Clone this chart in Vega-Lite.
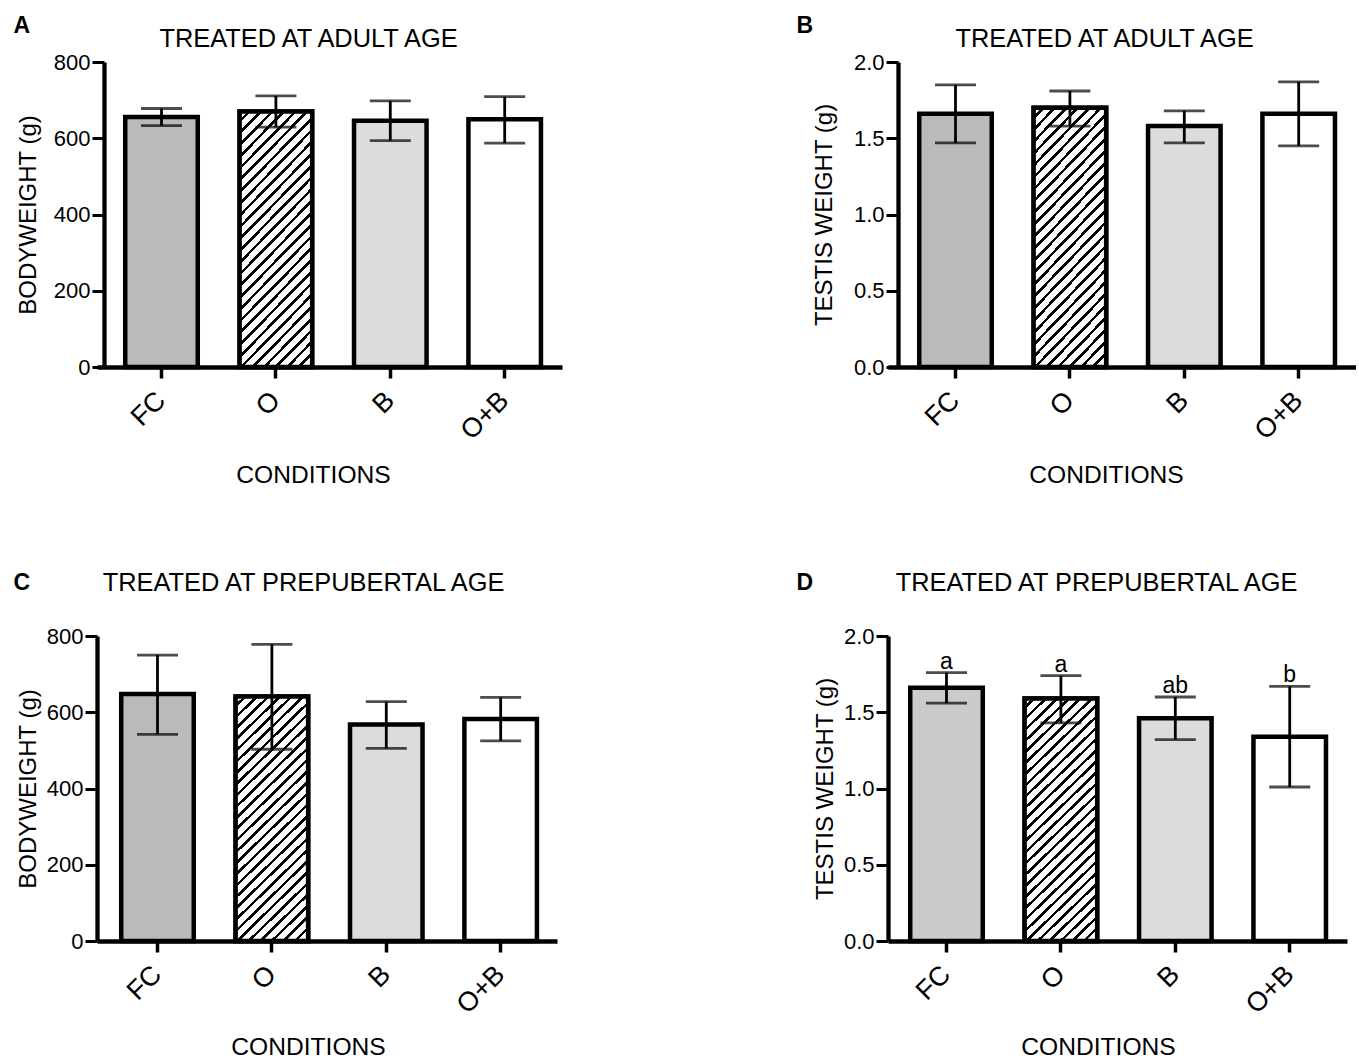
{
"$schema": "https://vega.github.io/schema/vega-lite/v6.json",
"background": "#ffffff",
"padding": {"left": 13, "top": 14, "right": 0, "bottom": 0},
"columns": 2,
"bounds": "flush",
"spacing": {"row": 269, "column": 326},
"config": {
  "font": "Liberation Sans",
  "view": {"stroke": null},
  "axis": {"grid": false, "domainColor": "#000", "tickColor": "#000", "labelColor": "#000", "titleColor": "#000", "titleFontWeight": "normal", "titleFont": "Liberation Sans", "labelFont": "Liberation Sans"}
},
"concat": [
{
 "width": 465, "height": 305,
 "data": {"values": [
  {"cond":"FC","mean":656,"lo":633,"hi":678},
  {"cond":"O","mean":670,"lo":629,"hi":711},
  {"cond":"B","mean":646,"lo":594,"hi":698},
  {"cond":"O+B","mean":650,"lo":587,"hi":709}]},
 "layer": [
  {"mark": {"type":"bar","stroke":"#000","strokeWidth":4.5},
   "encoding": {
    "x": {"field":"cond","type":"nominal","sort":["FC","O","B","O+B"],
      "scale":{"domain":["FC","O","B","O+B"],"paddingInner":0.366,"paddingOuter":0.2154,"align":0.573},
      "axis":{"title":"CONDITIONS","titleX":216,"titleY":115,"titleFontSize":24.6,"titleAngle":0,"titleAlign":"center","titleBaseline":"alphabetic","labelAngle":-45,"labelAlign":"right","labelBaseline":"middle","labelFontSize":27,"labelPadding":18,"tickSize":11,"tickWidth":3.5,"domainWidth":4.5}},
    "y": {"field":"mean","type":"quantitative","scale":{"domain":[0,800],"nice":false},
      "axis":{"title":"BODYWEIGHT (g)","values":[0,200,400,600,800],"offset":-7,"titleX":-68.5,"titleY":152.5,"titleFontSize":24,"titleAngle":-90,"titleAlign":"center","titleBaseline":"alphabetic","labelFontSize":22,"labelPadding":2,"tickSize":12,"tickWidth":3,"domainWidth":4.3}},
    "fill": {"condition":[{"test":"datum.cond === 'FC'","value":"#bababa"},{"test":"datum.cond === 'B'","value":"#dcdcdc"}],"value":"#ffffff"}
   }},
  {"transform":[{"filter":"datum.cond === 'O'"}],
   "mark": {"type":"bar","stroke":"#000","strokeWidth":4.5,"fill":{"gradient":"linear","x1":0,"y1":0,"x2":0.345,"y2":1.19,"stops":[{"offset":0,"color":"#fff"},{"offset":0.0243,"color":"#fff"},{"offset":0.0243,"color":"#000"},{"offset":0.0357,"color":"#000"},{"offset":0.0357,"color":"#fff"},{"offset":0.06,"color":"#fff"},{"offset":0.06,"color":"#000"},{"offset":0.0714,"color":"#000"},{"offset":0.0714,"color":"#fff"},{"offset":0.0957,"color":"#fff"},{"offset":0.0957,"color":"#000"},{"offset":0.1071,"color":"#000"},{"offset":0.1071,"color":"#fff"},{"offset":0.1314,"color":"#fff"},{"offset":0.1314,"color":"#000"},{"offset":0.1429,"color":"#000"},{"offset":0.1429,"color":"#fff"},{"offset":0.1671,"color":"#fff"},{"offset":0.1671,"color":"#000"},{"offset":0.1786,"color":"#000"},{"offset":0.1786,"color":"#fff"},{"offset":0.2029,"color":"#fff"},{"offset":0.2029,"color":"#000"},{"offset":0.2143,"color":"#000"},{"offset":0.2143,"color":"#fff"},{"offset":0.2386,"color":"#fff"},{"offset":0.2386,"color":"#000"},{"offset":0.25,"color":"#000"},{"offset":0.25,"color":"#fff"},{"offset":0.2743,"color":"#fff"},{"offset":0.2743,"color":"#000"},{"offset":0.2857,"color":"#000"},{"offset":0.2857,"color":"#fff"},{"offset":0.31,"color":"#fff"},{"offset":0.31,"color":"#000"},{"offset":0.3214,"color":"#000"},{"offset":0.3214,"color":"#fff"},{"offset":0.3457,"color":"#fff"},{"offset":0.3457,"color":"#000"},{"offset":0.3571,"color":"#000"},{"offset":0.3571,"color":"#fff"},{"offset":0.3814,"color":"#fff"},{"offset":0.3814,"color":"#000"},{"offset":0.3929,"color":"#000"},{"offset":0.3929,"color":"#fff"},{"offset":0.4171,"color":"#fff"},{"offset":0.4171,"color":"#000"},{"offset":0.4286,"color":"#000"},{"offset":0.4286,"color":"#fff"},{"offset":0.4529,"color":"#fff"},{"offset":0.4529,"color":"#000"},{"offset":0.4643,"color":"#000"},{"offset":0.4643,"color":"#fff"},{"offset":0.4886,"color":"#fff"},{"offset":0.4886,"color":"#000"},{"offset":0.5,"color":"#000"},{"offset":0.5,"color":"#fff"},{"offset":0.5243,"color":"#fff"},{"offset":0.5243,"color":"#000"},{"offset":0.5357,"color":"#000"},{"offset":0.5357,"color":"#fff"},{"offset":0.56,"color":"#fff"},{"offset":0.56,"color":"#000"},{"offset":0.5714,"color":"#000"},{"offset":0.5714,"color":"#fff"},{"offset":0.5957,"color":"#fff"},{"offset":0.5957,"color":"#000"},{"offset":0.6071,"color":"#000"},{"offset":0.6071,"color":"#fff"},{"offset":0.6314,"color":"#fff"},{"offset":0.6314,"color":"#000"},{"offset":0.6429,"color":"#000"},{"offset":0.6429,"color":"#fff"},{"offset":0.6671,"color":"#fff"},{"offset":0.6671,"color":"#000"},{"offset":0.6786,"color":"#000"},{"offset":0.6786,"color":"#fff"},{"offset":0.7029,"color":"#fff"},{"offset":0.7029,"color":"#000"},{"offset":0.7143,"color":"#000"},{"offset":0.7143,"color":"#fff"},{"offset":0.7386,"color":"#fff"},{"offset":0.7386,"color":"#000"},{"offset":0.75,"color":"#000"},{"offset":0.75,"color":"#fff"},{"offset":0.7743,"color":"#fff"},{"offset":0.7743,"color":"#000"},{"offset":0.7857,"color":"#000"},{"offset":0.7857,"color":"#fff"},{"offset":0.81,"color":"#fff"},{"offset":0.81,"color":"#000"},{"offset":0.8214,"color":"#000"},{"offset":0.8214,"color":"#fff"},{"offset":0.8457,"color":"#fff"},{"offset":0.8457,"color":"#000"},{"offset":0.8571,"color":"#000"},{"offset":0.8571,"color":"#fff"},{"offset":0.8814,"color":"#fff"},{"offset":0.8814,"color":"#000"},{"offset":0.8929,"color":"#000"},{"offset":0.8929,"color":"#fff"},{"offset":0.9171,"color":"#fff"},{"offset":0.9171,"color":"#000"},{"offset":0.9286,"color":"#000"},{"offset":0.9286,"color":"#fff"},{"offset":0.9529,"color":"#fff"},{"offset":0.9529,"color":"#000"},{"offset":0.9643,"color":"#000"},{"offset":0.9643,"color":"#fff"},{"offset":0.9886,"color":"#fff"},{"offset":0.9886,"color":"#000"},{"offset":1,"color":"#000"}]}},
   "encoding": {"x": {"field":"cond","type":"nominal","sort":["FC","O","B","O+B"],"axis":null}, "y": {"field":"mean","type":"quantitative","axis":null}}},
  {"mark": {"type":"rule","color":"#000","strokeWidth":2.8},
   "encoding": {
     "x": {"field":"cond","type":"nominal","sort":["FC","O","B","O+B"],"axis":{"orient":"top","title":"A","titleX":-84,"titleY":-30,"domain":false,"ticks":false,"labels":false,"titleAngle":0,"titleAlign":"left","titleBaseline":"alphabetic","titleFontWeight":"bold","titleFontSize":23}},
     "y": {"field":"lo","type":"quantitative","axis":{"orient":"right","title":"TREATED AT ADULT AGE","titleX":-254,"titleY":-16,"domain":false,"ticks":false,"labels":false,"titleAngle":0,"titleAlign":"center","titleBaseline":"alphabetic","titleFontSize":25.4}},
     "y2": {"field":"hi"}}},
  {"mark": {"type":"tick","color":"#000","thickness":2.8,"size":41},
   "encoding": {"x": {"field":"cond","type":"nominal","sort":["FC","O","B","O+B"],"axis":null}, "y": {"field":"lo","type":"quantitative","axis":null}}},
  {"mark": {"type":"tick","color":"#000","thickness":2.8,"size":41},
   "encoding": {"x": {"field":"cond","type":"nominal","sort":["FC","O","B","O+B"],"axis":null}, "y": {"field":"hi","type":"quantitative","axis":null}}}
 ],
 "resolve": {"axis": {"x":"independent","y":"independent"}}
},
{
 "width": 468, "height": 305,
 "data": {"values": [
  {"cond":"FC","mean":1.66,"lo":1.47,"hi":1.85},
  {"cond":"O","mean":1.70,"lo":1.58,"hi":1.81},
  {"cond":"B","mean":1.58,"lo":1.47,"hi":1.68},
  {"cond":"O+B","mean":1.66,"lo":1.45,"hi":1.87}]},
 "layer": [
  {"mark": {"type":"bar","stroke":"#000","strokeWidth":4.5},
   "encoding": {
    "x": {"field":"cond","type":"nominal","sort":["FC","O","B","O+B"],
      "scale":{"domain":["FC","O","B","O+B"],"paddingInner":0.366,"paddingOuter":0.2285,"align":0.5975},
      "axis":{"title":"CONDITIONS","titleX":218,"titleY":115,"titleFontSize":24.6,"titleAngle":0,"titleAlign":"center","titleBaseline":"alphabetic","labelAngle":-45,"labelAlign":"right","labelBaseline":"middle","labelFontSize":27,"labelPadding":18,"tickSize":11,"tickWidth":3.5,"domainWidth":4.5}},
    "y": {"field":"mean","type":"quantitative","scale":{"domain":[0,2],"nice":false},
      "axis":{"title":"TESTIS WEIGHT (g)","values":[0,0.5,1,1.5,2],"format":".1f","offset":-10,"titleX":-66.5,"titleY":152.5,"titleFontSize":24,"titleAngle":-90,"titleAlign":"center","titleBaseline":"alphabetic","labelFontSize":22,"labelPadding":2,"tickSize":12,"tickWidth":3,"domainWidth":4.3}},
    "fill": {"condition":[{"test":"datum.cond === 'FC'","value":"#bababa"},{"test":"datum.cond === 'B'","value":"#dcdcdc"}],"value":"#ffffff"}
   }},
  {"transform":[{"filter":"datum.cond === 'O'"}],
   "mark": {"type":"bar","stroke":"#000","strokeWidth":4.5,"fill":{"gradient":"linear","x1":0,"y1":0,"x2":0.345,"y2":1.19,"stops":[{"offset":0,"color":"#fff"},{"offset":0.0243,"color":"#fff"},{"offset":0.0243,"color":"#000"},{"offset":0.0357,"color":"#000"},{"offset":0.0357,"color":"#fff"},{"offset":0.06,"color":"#fff"},{"offset":0.06,"color":"#000"},{"offset":0.0714,"color":"#000"},{"offset":0.0714,"color":"#fff"},{"offset":0.0957,"color":"#fff"},{"offset":0.0957,"color":"#000"},{"offset":0.1071,"color":"#000"},{"offset":0.1071,"color":"#fff"},{"offset":0.1314,"color":"#fff"},{"offset":0.1314,"color":"#000"},{"offset":0.1429,"color":"#000"},{"offset":0.1429,"color":"#fff"},{"offset":0.1671,"color":"#fff"},{"offset":0.1671,"color":"#000"},{"offset":0.1786,"color":"#000"},{"offset":0.1786,"color":"#fff"},{"offset":0.2029,"color":"#fff"},{"offset":0.2029,"color":"#000"},{"offset":0.2143,"color":"#000"},{"offset":0.2143,"color":"#fff"},{"offset":0.2386,"color":"#fff"},{"offset":0.2386,"color":"#000"},{"offset":0.25,"color":"#000"},{"offset":0.25,"color":"#fff"},{"offset":0.2743,"color":"#fff"},{"offset":0.2743,"color":"#000"},{"offset":0.2857,"color":"#000"},{"offset":0.2857,"color":"#fff"},{"offset":0.31,"color":"#fff"},{"offset":0.31,"color":"#000"},{"offset":0.3214,"color":"#000"},{"offset":0.3214,"color":"#fff"},{"offset":0.3457,"color":"#fff"},{"offset":0.3457,"color":"#000"},{"offset":0.3571,"color":"#000"},{"offset":0.3571,"color":"#fff"},{"offset":0.3814,"color":"#fff"},{"offset":0.3814,"color":"#000"},{"offset":0.3929,"color":"#000"},{"offset":0.3929,"color":"#fff"},{"offset":0.4171,"color":"#fff"},{"offset":0.4171,"color":"#000"},{"offset":0.4286,"color":"#000"},{"offset":0.4286,"color":"#fff"},{"offset":0.4529,"color":"#fff"},{"offset":0.4529,"color":"#000"},{"offset":0.4643,"color":"#000"},{"offset":0.4643,"color":"#fff"},{"offset":0.4886,"color":"#fff"},{"offset":0.4886,"color":"#000"},{"offset":0.5,"color":"#000"},{"offset":0.5,"color":"#fff"},{"offset":0.5243,"color":"#fff"},{"offset":0.5243,"color":"#000"},{"offset":0.5357,"color":"#000"},{"offset":0.5357,"color":"#fff"},{"offset":0.56,"color":"#fff"},{"offset":0.56,"color":"#000"},{"offset":0.5714,"color":"#000"},{"offset":0.5714,"color":"#fff"},{"offset":0.5957,"color":"#fff"},{"offset":0.5957,"color":"#000"},{"offset":0.6071,"color":"#000"},{"offset":0.6071,"color":"#fff"},{"offset":0.6314,"color":"#fff"},{"offset":0.6314,"color":"#000"},{"offset":0.6429,"color":"#000"},{"offset":0.6429,"color":"#fff"},{"offset":0.6671,"color":"#fff"},{"offset":0.6671,"color":"#000"},{"offset":0.6786,"color":"#000"},{"offset":0.6786,"color":"#fff"},{"offset":0.7029,"color":"#fff"},{"offset":0.7029,"color":"#000"},{"offset":0.7143,"color":"#000"},{"offset":0.7143,"color":"#fff"},{"offset":0.7386,"color":"#fff"},{"offset":0.7386,"color":"#000"},{"offset":0.75,"color":"#000"},{"offset":0.75,"color":"#fff"},{"offset":0.7743,"color":"#fff"},{"offset":0.7743,"color":"#000"},{"offset":0.7857,"color":"#000"},{"offset":0.7857,"color":"#fff"},{"offset":0.81,"color":"#fff"},{"offset":0.81,"color":"#000"},{"offset":0.8214,"color":"#000"},{"offset":0.8214,"color":"#fff"},{"offset":0.8457,"color":"#fff"},{"offset":0.8457,"color":"#000"},{"offset":0.8571,"color":"#000"},{"offset":0.8571,"color":"#fff"},{"offset":0.8814,"color":"#fff"},{"offset":0.8814,"color":"#000"},{"offset":0.8929,"color":"#000"},{"offset":0.8929,"color":"#fff"},{"offset":0.9171,"color":"#fff"},{"offset":0.9171,"color":"#000"},{"offset":0.9286,"color":"#000"},{"offset":0.9286,"color":"#fff"},{"offset":0.9529,"color":"#fff"},{"offset":0.9529,"color":"#000"},{"offset":0.9643,"color":"#000"},{"offset":0.9643,"color":"#fff"},{"offset":0.9886,"color":"#fff"},{"offset":0.9886,"color":"#000"},{"offset":1,"color":"#000"}]}},
   "encoding": {"x": {"field":"cond","type":"nominal","sort":["FC","O","B","O+B"],"axis":null}, "y": {"field":"mean","type":"quantitative","axis":null}}},
  {"mark": {"type":"rule","color":"#000","strokeWidth":2.8},
   "encoding": {
     "x": {"field":"cond","type":"nominal","sort":["FC","O","B","O+B"],"axis":{"orient":"top","title":"B","titleX":-92,"titleY":-30,"domain":false,"ticks":false,"labels":false,"titleAngle":0,"titleAlign":"left","titleBaseline":"alphabetic","titleFontWeight":"bold","titleFontSize":23}},
     "y": {"field":"lo","type":"quantitative","axis":{"orient":"right","title":"TREATED AT ADULT AGE","titleX":-252,"titleY":-16,"domain":false,"ticks":false,"labels":false,"titleAngle":0,"titleAlign":"center","titleBaseline":"alphabetic","titleFontSize":25.4}},
     "y2": {"field":"hi"}}},
  {"mark": {"type":"tick","color":"#000","thickness":2.8,"size":41},
   "encoding": {"x": {"field":"cond","type":"nominal","sort":["FC","O","B","O+B"],"axis":null}, "y": {"field":"lo","type":"quantitative","axis":null}}},
  {"mark": {"type":"tick","color":"#000","thickness":2.8,"size":41},
   "encoding": {"x": {"field":"cond","type":"nominal","sort":["FC","O","B","O+B"],"axis":null}, "y": {"field":"hi","type":"quantitative","axis":null}}}
 ],
 "resolve": {"axis": {"x":"independent","y":"independent"}}
},
{
 "width": 460, "height": 305,
 "data": {"values": [
  {"cond":"FC","mean":648,"lo":542,"hi":750},
  {"cond":"O","mean":641,"lo":503,"hi":778},
  {"cond":"B","mean":568,"lo":505,"hi":628},
  {"cond":"O+B","mean":582,"lo":525,"hi":639}]},
 "layer": [
  {"mark": {"type":"bar","stroke":"#000","strokeWidth":4.5},
   "encoding": {
    "x": {"field":"cond","type":"nominal","sort":["FC","O","B","O+B"],
      "scale":{"domain":["FC","O","B","O+B"],"paddingInner":0.366,"paddingOuter":0.1936,"align":0.547},
      "axis":{"title":"CONDITIONS","titleX":211,"titleY":113,"titleFontSize":24.6,"titleAngle":0,"titleAlign":"center","titleBaseline":"alphabetic","labelAngle":-45,"labelAlign":"right","labelBaseline":"middle","labelFontSize":27,"labelPadding":18,"tickSize":11,"tickWidth":3.5,"domainWidth":4.5}},
    "y": {"field":"mean","type":"quantitative","scale":{"domain":[0,800],"nice":false},
      "axis":{"title":"BODYWEIGHT (g)","values":[0,200,400,600,800],"titleX":-61.5,"titleY":152.5,"titleFontSize":24,"titleAngle":-90,"titleAlign":"center","titleBaseline":"alphabetic","labelFontSize":22,"labelPadding":2,"tickSize":12,"tickWidth":3,"domainWidth":4.3}},
    "fill": {"condition":[{"test":"datum.cond === 'FC'","value":"#bababa"},{"test":"datum.cond === 'B'","value":"#dcdcdc"}],"value":"#ffffff"}
   }},
  {"transform":[{"filter":"datum.cond === 'O'"}],
   "mark": {"type":"bar","stroke":"#000","strokeWidth":4.5,"fill":{"gradient":"linear","x1":0,"y1":0,"x2":0.345,"y2":1.19,"stops":[{"offset":0,"color":"#fff"},{"offset":0.0243,"color":"#fff"},{"offset":0.0243,"color":"#000"},{"offset":0.0357,"color":"#000"},{"offset":0.0357,"color":"#fff"},{"offset":0.06,"color":"#fff"},{"offset":0.06,"color":"#000"},{"offset":0.0714,"color":"#000"},{"offset":0.0714,"color":"#fff"},{"offset":0.0957,"color":"#fff"},{"offset":0.0957,"color":"#000"},{"offset":0.1071,"color":"#000"},{"offset":0.1071,"color":"#fff"},{"offset":0.1314,"color":"#fff"},{"offset":0.1314,"color":"#000"},{"offset":0.1429,"color":"#000"},{"offset":0.1429,"color":"#fff"},{"offset":0.1671,"color":"#fff"},{"offset":0.1671,"color":"#000"},{"offset":0.1786,"color":"#000"},{"offset":0.1786,"color":"#fff"},{"offset":0.2029,"color":"#fff"},{"offset":0.2029,"color":"#000"},{"offset":0.2143,"color":"#000"},{"offset":0.2143,"color":"#fff"},{"offset":0.2386,"color":"#fff"},{"offset":0.2386,"color":"#000"},{"offset":0.25,"color":"#000"},{"offset":0.25,"color":"#fff"},{"offset":0.2743,"color":"#fff"},{"offset":0.2743,"color":"#000"},{"offset":0.2857,"color":"#000"},{"offset":0.2857,"color":"#fff"},{"offset":0.31,"color":"#fff"},{"offset":0.31,"color":"#000"},{"offset":0.3214,"color":"#000"},{"offset":0.3214,"color":"#fff"},{"offset":0.3457,"color":"#fff"},{"offset":0.3457,"color":"#000"},{"offset":0.3571,"color":"#000"},{"offset":0.3571,"color":"#fff"},{"offset":0.3814,"color":"#fff"},{"offset":0.3814,"color":"#000"},{"offset":0.3929,"color":"#000"},{"offset":0.3929,"color":"#fff"},{"offset":0.4171,"color":"#fff"},{"offset":0.4171,"color":"#000"},{"offset":0.4286,"color":"#000"},{"offset":0.4286,"color":"#fff"},{"offset":0.4529,"color":"#fff"},{"offset":0.4529,"color":"#000"},{"offset":0.4643,"color":"#000"},{"offset":0.4643,"color":"#fff"},{"offset":0.4886,"color":"#fff"},{"offset":0.4886,"color":"#000"},{"offset":0.5,"color":"#000"},{"offset":0.5,"color":"#fff"},{"offset":0.5243,"color":"#fff"},{"offset":0.5243,"color":"#000"},{"offset":0.5357,"color":"#000"},{"offset":0.5357,"color":"#fff"},{"offset":0.56,"color":"#fff"},{"offset":0.56,"color":"#000"},{"offset":0.5714,"color":"#000"},{"offset":0.5714,"color":"#fff"},{"offset":0.5957,"color":"#fff"},{"offset":0.5957,"color":"#000"},{"offset":0.6071,"color":"#000"},{"offset":0.6071,"color":"#fff"},{"offset":0.6314,"color":"#fff"},{"offset":0.6314,"color":"#000"},{"offset":0.6429,"color":"#000"},{"offset":0.6429,"color":"#fff"},{"offset":0.6671,"color":"#fff"},{"offset":0.6671,"color":"#000"},{"offset":0.6786,"color":"#000"},{"offset":0.6786,"color":"#fff"},{"offset":0.7029,"color":"#fff"},{"offset":0.7029,"color":"#000"},{"offset":0.7143,"color":"#000"},{"offset":0.7143,"color":"#fff"},{"offset":0.7386,"color":"#fff"},{"offset":0.7386,"color":"#000"},{"offset":0.75,"color":"#000"},{"offset":0.75,"color":"#fff"},{"offset":0.7743,"color":"#fff"},{"offset":0.7743,"color":"#000"},{"offset":0.7857,"color":"#000"},{"offset":0.7857,"color":"#fff"},{"offset":0.81,"color":"#fff"},{"offset":0.81,"color":"#000"},{"offset":0.8214,"color":"#000"},{"offset":0.8214,"color":"#fff"},{"offset":0.8457,"color":"#fff"},{"offset":0.8457,"color":"#000"},{"offset":0.8571,"color":"#000"},{"offset":0.8571,"color":"#fff"},{"offset":0.8814,"color":"#fff"},{"offset":0.8814,"color":"#000"},{"offset":0.8929,"color":"#000"},{"offset":0.8929,"color":"#fff"},{"offset":0.9171,"color":"#fff"},{"offset":0.9171,"color":"#000"},{"offset":0.9286,"color":"#000"},{"offset":0.9286,"color":"#fff"},{"offset":0.9529,"color":"#fff"},{"offset":0.9529,"color":"#000"},{"offset":0.9643,"color":"#000"},{"offset":0.9643,"color":"#fff"},{"offset":0.9886,"color":"#fff"},{"offset":0.9886,"color":"#000"},{"offset":1,"color":"#000"}]}},
   "encoding": {"x": {"field":"cond","type":"nominal","sort":["FC","O","B","O+B"],"axis":null}, "y": {"field":"mean","type":"quantitative","axis":null}}},
  {"mark": {"type":"rule","color":"#000","strokeWidth":2.8},
   "encoding": {
     "x": {"field":"cond","type":"nominal","sort":["FC","O","B","O+B"],"axis":{"orient":"top","title":"C","titleX":-84,"titleY":-47,"domain":false,"ticks":false,"labels":false,"titleAngle":0,"titleAlign":"left","titleBaseline":"alphabetic","titleFontWeight":"bold","titleFontSize":23}},
     "y": {"field":"lo","type":"quantitative","axis":{"orient":"right","title":"TREATED AT PREPUBERTAL AGE","titleX":-254,"titleY":-46,"domain":false,"ticks":false,"labels":false,"titleAngle":0,"titleAlign":"center","titleBaseline":"alphabetic","titleFontSize":25.4}},
     "y2": {"field":"hi"}}},
  {"mark": {"type":"tick","color":"#000","thickness":2.8,"size":41},
   "encoding": {"x": {"field":"cond","type":"nominal","sort":["FC","O","B","O+B"],"axis":null}, "y": {"field":"lo","type":"quantitative","axis":null}}},
  {"mark": {"type":"tick","color":"#000","thickness":2.8,"size":41},
   "encoding": {"x": {"field":"cond","type":"nominal","sort":["FC","O","B","O+B"],"axis":null}, "y": {"field":"hi","type":"quantitative","axis":null}}}
 ],
 "resolve": {"axis": {"x":"independent","y":"independent"}}
},
{
 "width": 459, "height": 305,
 "data": {"values": [
  {"cond":"FC","mean":1.66,"lo":1.56,"hi":1.76,"lbl":"a"},
  {"cond":"O","mean":1.59,"lo":1.43,"hi":1.74,"lbl":"a"},
  {"cond":"B","mean":1.46,"lo":1.32,"hi":1.60,"lbl":"ab"},
  {"cond":"O+B","mean":1.34,"lo":1.01,"hi":1.67,"lbl":"b"}]},
 "layer": [
  {"mark": {"type":"bar","stroke":"#000","strokeWidth":4.5},
   "encoding": {
    "x": {"field":"cond","type":"nominal","sort":["FC","O","B","O+B"],
      "scale":{"domain":["FC","O","B","O+B"],"paddingInner":0.366,"paddingOuter":0.189,"align":0.514},
      "axis":{"title":"CONDITIONS","titleX":210,"titleY":113,"titleFontSize":24.6,"titleAngle":0,"titleAlign":"center","titleBaseline":"alphabetic","labelAngle":-45,"labelAlign":"right","labelBaseline":"middle","labelFontSize":27,"labelPadding":18,"tickSize":11,"tickWidth":3.5,"domainWidth":4.5}},
    "y": {"field":"mean","type":"quantitative","scale":{"domain":[0,2],"nice":false},
      "axis":{"title":"TESTIS WEIGHT (g)","values":[0,0.5,1,1.5,2],"format":".1f","titleX":-56,"titleY":152.5,"titleFontSize":24,"titleAngle":-90,"titleAlign":"center","titleBaseline":"alphabetic","labelFontSize":22,"labelPadding":2,"tickSize":12,"tickWidth":3,"domainWidth":4.3}},
    "fill": {"condition":[{"test":"datum.cond === 'FC'","value":"#cbcbcb"},{"test":"datum.cond === 'B'","value":"#dcdcdc"}],"value":"#ffffff"}
   }},
  {"transform":[{"filter":"datum.cond === 'O'"}],
   "mark": {"type":"bar","stroke":"#000","strokeWidth":4.5,"fill":{"gradient":"linear","x1":0,"y1":0,"x2":0.345,"y2":1.19,"stops":[{"offset":0,"color":"#fff"},{"offset":0.0243,"color":"#fff"},{"offset":0.0243,"color":"#000"},{"offset":0.0357,"color":"#000"},{"offset":0.0357,"color":"#fff"},{"offset":0.06,"color":"#fff"},{"offset":0.06,"color":"#000"},{"offset":0.0714,"color":"#000"},{"offset":0.0714,"color":"#fff"},{"offset":0.0957,"color":"#fff"},{"offset":0.0957,"color":"#000"},{"offset":0.1071,"color":"#000"},{"offset":0.1071,"color":"#fff"},{"offset":0.1314,"color":"#fff"},{"offset":0.1314,"color":"#000"},{"offset":0.1429,"color":"#000"},{"offset":0.1429,"color":"#fff"},{"offset":0.1671,"color":"#fff"},{"offset":0.1671,"color":"#000"},{"offset":0.1786,"color":"#000"},{"offset":0.1786,"color":"#fff"},{"offset":0.2029,"color":"#fff"},{"offset":0.2029,"color":"#000"},{"offset":0.2143,"color":"#000"},{"offset":0.2143,"color":"#fff"},{"offset":0.2386,"color":"#fff"},{"offset":0.2386,"color":"#000"},{"offset":0.25,"color":"#000"},{"offset":0.25,"color":"#fff"},{"offset":0.2743,"color":"#fff"},{"offset":0.2743,"color":"#000"},{"offset":0.2857,"color":"#000"},{"offset":0.2857,"color":"#fff"},{"offset":0.31,"color":"#fff"},{"offset":0.31,"color":"#000"},{"offset":0.3214,"color":"#000"},{"offset":0.3214,"color":"#fff"},{"offset":0.3457,"color":"#fff"},{"offset":0.3457,"color":"#000"},{"offset":0.3571,"color":"#000"},{"offset":0.3571,"color":"#fff"},{"offset":0.3814,"color":"#fff"},{"offset":0.3814,"color":"#000"},{"offset":0.3929,"color":"#000"},{"offset":0.3929,"color":"#fff"},{"offset":0.4171,"color":"#fff"},{"offset":0.4171,"color":"#000"},{"offset":0.4286,"color":"#000"},{"offset":0.4286,"color":"#fff"},{"offset":0.4529,"color":"#fff"},{"offset":0.4529,"color":"#000"},{"offset":0.4643,"color":"#000"},{"offset":0.4643,"color":"#fff"},{"offset":0.4886,"color":"#fff"},{"offset":0.4886,"color":"#000"},{"offset":0.5,"color":"#000"},{"offset":0.5,"color":"#fff"},{"offset":0.5243,"color":"#fff"},{"offset":0.5243,"color":"#000"},{"offset":0.5357,"color":"#000"},{"offset":0.5357,"color":"#fff"},{"offset":0.56,"color":"#fff"},{"offset":0.56,"color":"#000"},{"offset":0.5714,"color":"#000"},{"offset":0.5714,"color":"#fff"},{"offset":0.5957,"color":"#fff"},{"offset":0.5957,"color":"#000"},{"offset":0.6071,"color":"#000"},{"offset":0.6071,"color":"#fff"},{"offset":0.6314,"color":"#fff"},{"offset":0.6314,"color":"#000"},{"offset":0.6429,"color":"#000"},{"offset":0.6429,"color":"#fff"},{"offset":0.6671,"color":"#fff"},{"offset":0.6671,"color":"#000"},{"offset":0.6786,"color":"#000"},{"offset":0.6786,"color":"#fff"},{"offset":0.7029,"color":"#fff"},{"offset":0.7029,"color":"#000"},{"offset":0.7143,"color":"#000"},{"offset":0.7143,"color":"#fff"},{"offset":0.7386,"color":"#fff"},{"offset":0.7386,"color":"#000"},{"offset":0.75,"color":"#000"},{"offset":0.75,"color":"#fff"},{"offset":0.7743,"color":"#fff"},{"offset":0.7743,"color":"#000"},{"offset":0.7857,"color":"#000"},{"offset":0.7857,"color":"#fff"},{"offset":0.81,"color":"#fff"},{"offset":0.81,"color":"#000"},{"offset":0.8214,"color":"#000"},{"offset":0.8214,"color":"#fff"},{"offset":0.8457,"color":"#fff"},{"offset":0.8457,"color":"#000"},{"offset":0.8571,"color":"#000"},{"offset":0.8571,"color":"#fff"},{"offset":0.8814,"color":"#fff"},{"offset":0.8814,"color":"#000"},{"offset":0.8929,"color":"#000"},{"offset":0.8929,"color":"#fff"},{"offset":0.9171,"color":"#fff"},{"offset":0.9171,"color":"#000"},{"offset":0.9286,"color":"#000"},{"offset":0.9286,"color":"#fff"},{"offset":0.9529,"color":"#fff"},{"offset":0.9529,"color":"#000"},{"offset":0.9643,"color":"#000"},{"offset":0.9643,"color":"#fff"},{"offset":0.9886,"color":"#fff"},{"offset":0.9886,"color":"#000"},{"offset":1,"color":"#000"}]}},
   "encoding": {"x": {"field":"cond","type":"nominal","sort":["FC","O","B","O+B"],"axis":null}, "y": {"field":"mean","type":"quantitative","axis":null}}},
  {"mark": {"type":"rule","color":"#000","strokeWidth":2.8},
   "encoding": {
     "x": {"field":"cond","type":"nominal","sort":["FC","O","B","O+B"],"axis":{"orient":"top","title":"D","titleX":-92,"titleY":-47,"domain":false,"ticks":false,"labels":false,"titleAngle":0,"titleAlign":"left","titleBaseline":"alphabetic","titleFontWeight":"bold","titleFontSize":23}},
     "y": {"field":"lo","type":"quantitative","axis":{"orient":"right","title":"TREATED AT PREPUBERTAL AGE","titleX":-251,"titleY":-46,"domain":false,"ticks":false,"labels":false,"titleAngle":0,"titleAlign":"center","titleBaseline":"alphabetic","titleFontSize":25.4}},
     "y2": {"field":"hi"}}},
  {"mark": {"type":"tick","color":"#000","thickness":2.8,"size":41},
   "encoding": {"x": {"field":"cond","type":"nominal","sort":["FC","O","B","O+B"],"axis":null}, "y": {"field":"lo","type":"quantitative","axis":null}}},
  {"mark": {"type":"tick","color":"#000","thickness":2.8,"size":41},
   "encoding": {"x": {"field":"cond","type":"nominal","sort":["FC","O","B","O+B"],"axis":null}, "y": {"field":"hi","type":"quantitative","axis":null}}},
  {"mark": {"type":"text","color":"#000","fontSize":23,"baseline":"alphabetic","dy":-4},
   "encoding": {"x": {"field":"cond","type":"nominal","sort":["FC","O","B","O+B"],"axis":null}, "y": {"field":"hi","type":"quantitative","axis":null}, "text": {"field":"lbl"}}}
 ],
 "resolve": {"axis": {"x":"independent","y":"independent"}}
}
]
}
